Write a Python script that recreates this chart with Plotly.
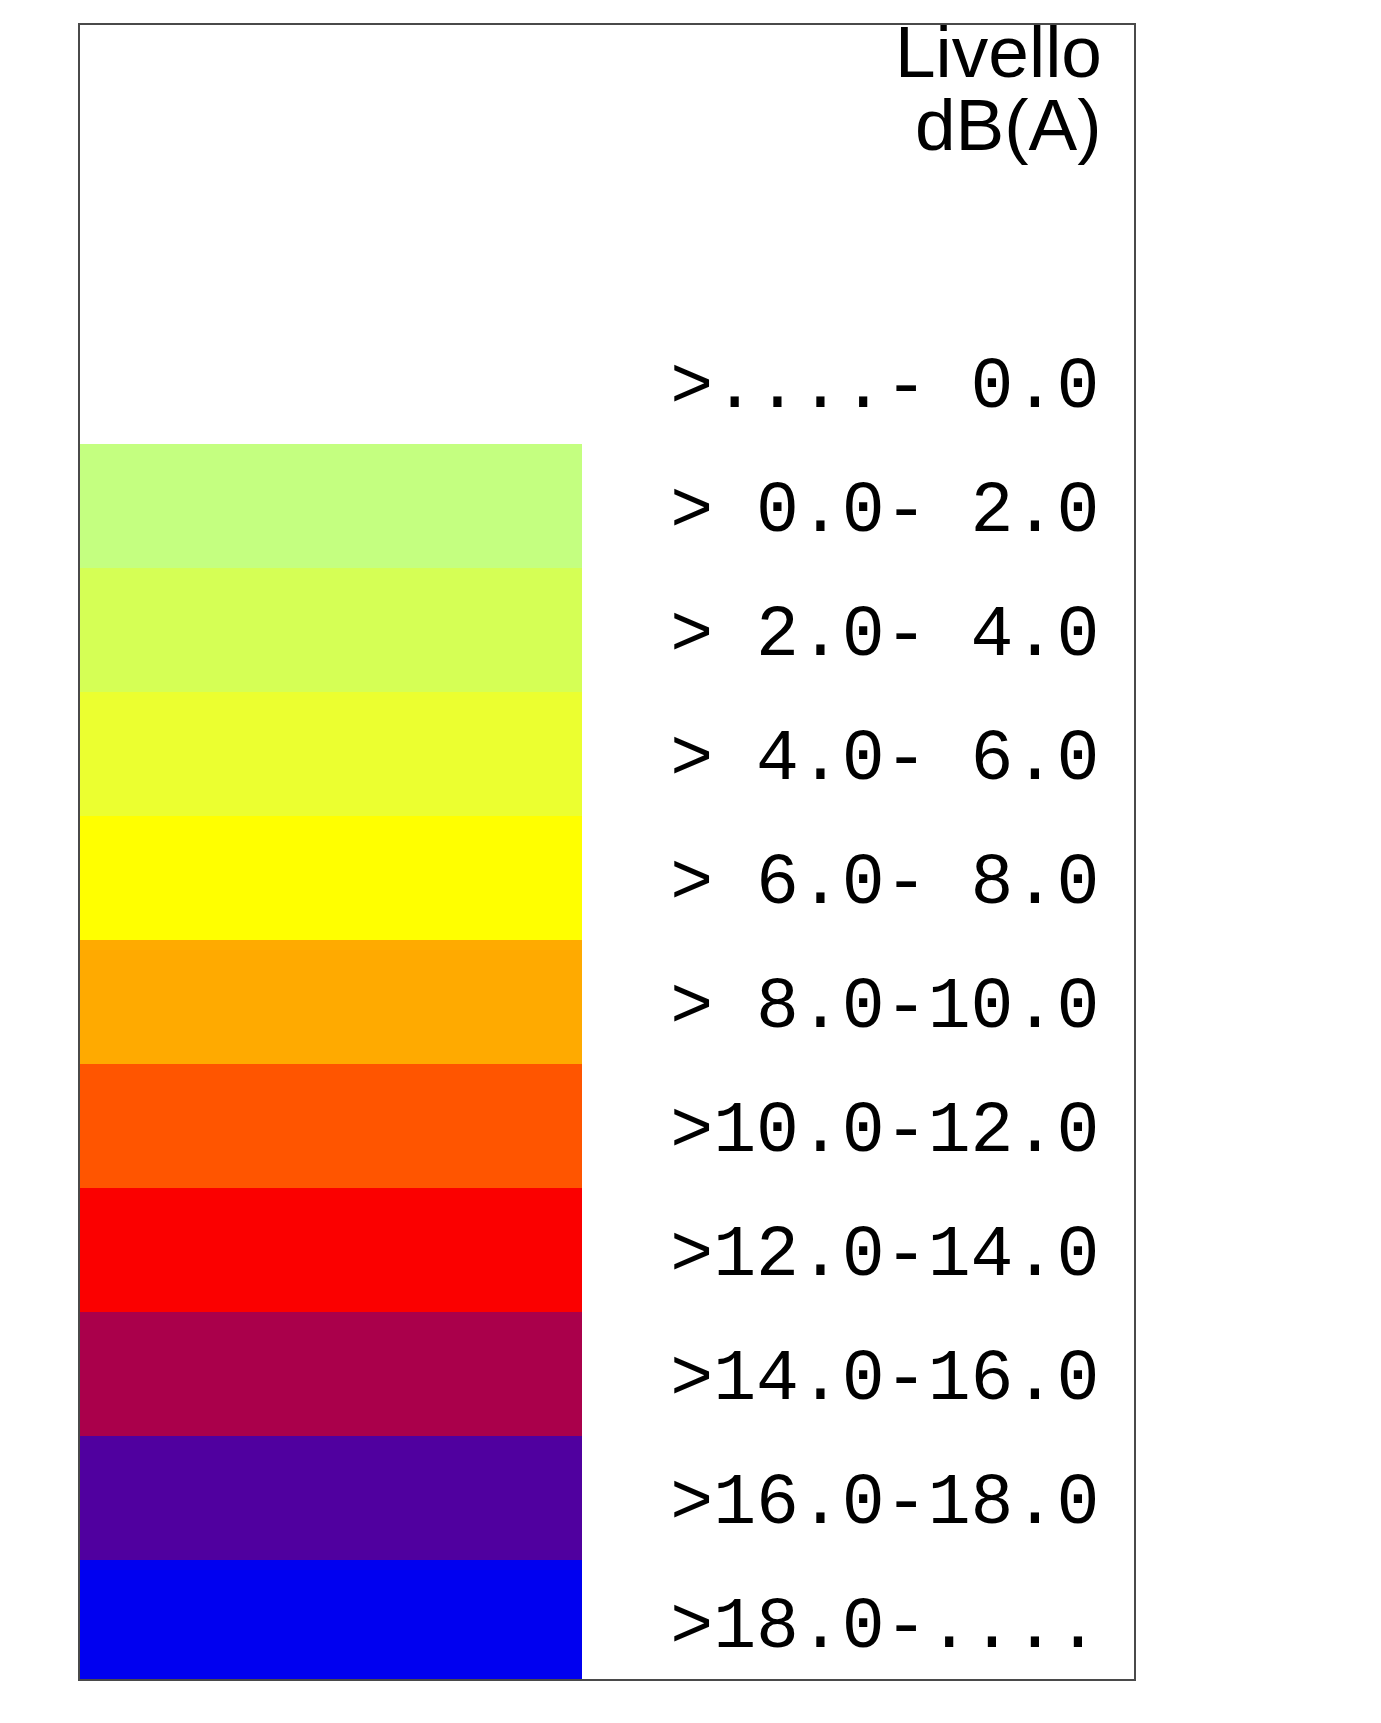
import plotly.graph_objects as go

# Legend classes (dB(A) ranges), top to bottom
class_labels = [">....- 0.0", "> 0.0- 2.0", "> 2.0- 4.0", "> 4.0- 6.0", "> 6.0- 8.0",
                "> 8.0-10.0", ">10.0-12.0", ">12.0-14.0", ">14.0-16.0", ">16.0-18.0",
                ">18.0-...."]
class_colors = ["#FFFFFF", "#C4FF80", "#D5FF55", "#EBFF30", "#FFFF00",
                "#FFAA00", "#FF5500", "#FB0000", "#AA004B", "#50009F", "#0000F0"]
swatch_length = [None, 1, 1, 1, 1, 1, 1, 1, 1, 1, 1]
title_lines = ["Livello", "dB(A)"]

W, H = 1381, 1723
NB = "\u00a0"
tick_text = [s.replace(" ", NB) for s in class_labels]

fig = go.Figure()
fig.add_trace(go.Bar(
    y=class_labels,
    x=swatch_length,
    orientation="h",
    marker=dict(color=class_colors, line=dict(width=0)),
    hoverinfo="skip",
    showlegend=False,
))

x0, x1, ytop, ybot = 80, 1134, 25, 1679
fig.update_layout(
    width=W, height=H, autosize=False,
    margin=dict(l=0, r=0, t=0, b=0),
    paper_bgcolor="white", plot_bgcolor="white",
    bargap=0,
    xaxis=dict(domain=[x0 / W, x1 / W], range=[0, 2.0996], showgrid=False,
               zeroline=False, showticklabels=False, ticks="",
               showline=True, mirror=True, linecolor="#4a4a4a", linewidth=2),
    yaxis=dict(domain=[1 - ybot / H, 1 - ytop / H], type="category",
               categoryorder="array", categoryarray=class_labels,
               range=[10.46, -2.879], side="right",
               tickmode="array", tickvals=class_labels, ticktext=tick_text,
               ticklabelposition="inside", ticklabelstandoff=46, ticks="",
               tickfont=dict(family="Liberation Mono", size=71.5, color="black"),
               showgrid=False, zeroline=False,
               showline=True, mirror=True, linecolor="#4a4a4a", linewidth=2),
)

title_y = [51, 125]
for txt, py in zip(title_lines, title_y):
    fig.add_annotation(text=txt, xref="paper", yref="paper",
                       x=1104 / W, y=1 - py / H, xanchor="right", yanchor="middle",
                       showarrow=False,
                       font=dict(family="Liberation Sans", size=73, color="black"))

fig.write_html("out.html", config={"displayModeBar": False},
               post_script="document.body.style.margin='0';")
